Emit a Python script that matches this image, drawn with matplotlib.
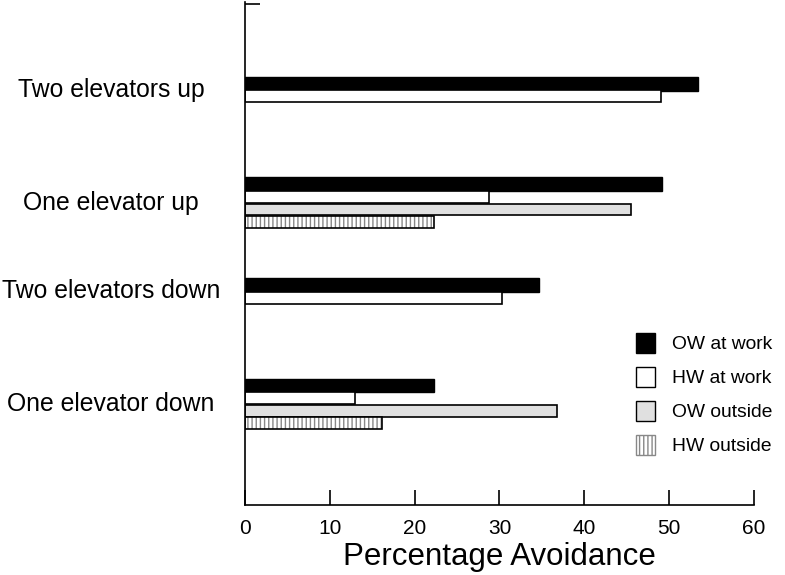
import matplotlib
matplotlib.use("Agg")
import matplotlib.pyplot as plt
from matplotlib.patches import Patch
import numpy as np

plt.rcParams['font.family'] = ['Liberation Sans', 'DejaVu Sans']
plt.rcParams['hatch.linewidth'] = 1.0

categories = ["Two elevators up", "One elevator up", "Two elevators down", "One elevator down"]
series = ["OW at work", "HW at work", "OW outside", "HW outside"]
ow_work = [53.4, 49.2, 34.7, 22.3]
hw_work = [49.0, 28.8, 30.3, 13.0]
ow_out = [None, 45.5, None, 36.8]
hw_out = [None, 22.3, None, 16.2]

fig = plt.figure(figsize=(7.85, 5.75), dpi=100)
ax = fig.add_axes([0.312, 0.1217, 0.6485, 0.8748])

group_start = [6, 14, 22, 30]
ax.set_ylim(40, 0)
ax.set_xlim(0, 60)

for gi, cat in enumerate(categories):
    s = group_start[gi]
    ax.barh(s + 0.5, ow_work[gi], height=1.1, color='black', edgecolor='black', linewidth=1)
    ax.barh(s + 1.5, hw_work[gi], height=0.95, color='white', edgecolor='black', linewidth=1.2)
    n = 2
    if ow_out[gi] is not None:
        ax.barh(s + 2.5, ow_out[gi], height=0.95, color='#e0e0e0', edgecolor='black', linewidth=1.2)
        n = 3
    if hw_out[gi] is not None:
        ax.barh(s + 3.5, hw_out[gi], height=0.95, color='white', edgecolor='#888888',
                hatch='||||', linewidth=0)
        ax.barh(s + 3.5, hw_out[gi], height=0.95, color='none', edgecolor='black', linewidth=1.2)
        n = 4
    center = s + n / 2.0
    ax.text(-0.263, center, cat, transform=ax.get_yaxis_transform(), ha='center', va='center',
            fontsize=17.8)

ax.spines['top'].set_visible(False)
ax.spines['right'].set_visible(False)
ax.spines['left'].set_linewidth(1.2)
ax.spines['bottom'].set_linewidth(1.2)

ax.set_xticks([0, 10, 20, 30, 40, 50, 60])
ax.tick_params(axis='x', direction='in', length=11, width=1.2, labelsize=15, pad=10)
ax.set_yticks([0.15])
ax.set_yticklabels([])
ax.tick_params(axis='y', direction='in', length=11, width=1.2)
ax.set_xlabel("Percentage Avoidance", fontsize=22.5, labelpad=3)

handles = [
    Patch(facecolor='black', edgecolor='black', label="OW at work"),
    Patch(facecolor='white', edgecolor='black', label="HW at work"),
    Patch(facecolor='#e0e0e0', edgecolor='black', label="OW outside"),
    Patch(facecolor='white', edgecolor='#888888', hatch='||||', label="HW outside"),
]
leg = ax.legend(handles=handles, loc='upper left', bbox_to_anchor=(0.768, 0.342),
                frameon=False, fontsize=13.9, handlelength=1.0, handleheight=1.2,
                labelspacing=0.7, handletextpad=0.85, borderaxespad=0, borderpad=0)

fig.savefig("out.png", dpi=100)
